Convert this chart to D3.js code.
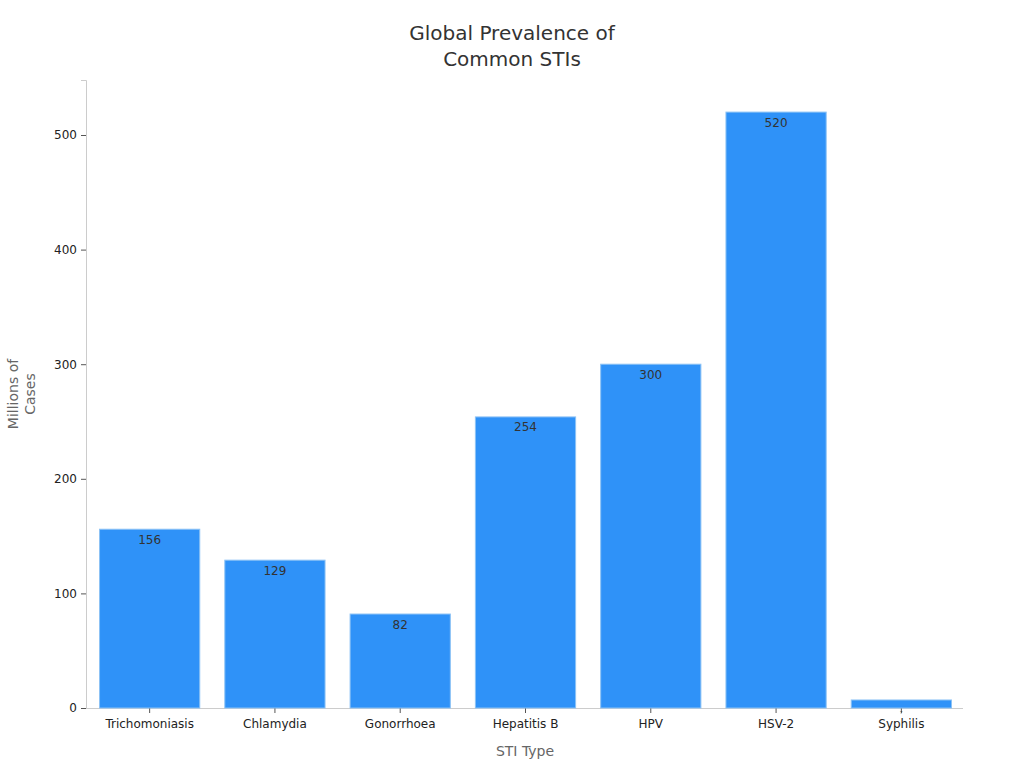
<!DOCTYPE html>
<html><head><meta charset="utf-8">
<script src="https://cdn.jsdelivr.net/npm/d3@7"></script>
<style>body{margin:0;background:#fff;font-family:"DejaVu Sans",sans-serif;}</style>
</head><body><svg id="c" width="1024" height="768"></svg>
<script>
const categories = ["Trichomoniasis","Chlamydia","Gonorrhoea","Hepatitis B","HPV","HSV-2","Syphilis"];
const values = [156,129,82,254,300,520,7];
const yTicks = [0,100,200,300,400,500];
const titleLines = ["Global Prevalence of","Common STIs"];
const xTitle = "STI Type";
const yTitleLines = ["Millions of","Cases"];

const svg = d3.select("#c");
const m = {l:86, r:61, t:80, b:60};
const W = 1024, H = 768;
const x = d3.scaleBand().domain(categories).range([m.l+1, W-m.r+1]).paddingInner(0.2).paddingOuter(0.1);
const y = d3.scaleLinear().domain([0, 548]).range([H-m.b, m.t]);

svg.append("g").selectAll("text").data(titleLines).join("text")
  .attr("x", 512).attr("y",(d,i)=>40+i*26).attr("text-anchor","middle")
  .attr("font-size",20).attr("fill","#333").text(d=>d);

const gy = svg.append("g").attr("transform",`translate(${m.l},0)`)
  .call(d3.axisLeft(y).tickValues(yTicks).tickSize(5).tickPadding(4));
gy.select(".domain").attr("stroke","#ccc");
gy.selectAll(".tick line").attr("stroke","#555");
gy.selectAll("text").attr("font-size",12).attr("fill","#222").attr("font-family","DejaVu Sans");

const gx = svg.append("g").attr("transform",`translate(0,${H-m.b})`)
  .call(d3.axisBottom(x).tickSize(5).tickPadding(6).tickSizeOuter(0));
gx.select(".domain").attr("stroke","#ccc").attr("d",`M${m.l},0.5H${W-m.r}`);
gx.selectAll(".tick line").attr("stroke","#555");
gx.selectAll("text").attr("font-size",12).attr("fill","#222").attr("font-family","DejaVu Sans");

svg.append("g").selectAll("rect").data(values).join("rect")
  .attr("x",(d,i)=>x(categories[i])).attr("width",x.bandwidth())
  .attr("y",d=>y(d)).attr("height",d=>y(0)-y(d))
  .attr("fill","#2f92f8").attr("stroke","#8cc2f5").attr("stroke-width",1);

svg.append("g").selectAll("text").data(values).join("text")
  .attr("x",(d,i)=>x(categories[i])+x.bandwidth()/2)
  .attr("y",d=>y(d)+14.5).attr("text-anchor","middle")
  .attr("font-size",d=>d<20?4:12).attr("fill","#333").text(d=>d);

svg.append("text").attr("x",525).attr("y",756).attr("text-anchor","middle")
  .attr("font-size",14).attr("fill","#666").text(xTitle);

svg.append("g").attr("transform","translate(18,394) rotate(-90)").selectAll("text").data(yTitleLines).join("text")
  .attr("x",0).attr("y",(d,i)=>i*17).attr("text-anchor","middle")
  .attr("font-size",14).attr("fill","#666").text(d=>d);
</script></body></html>
